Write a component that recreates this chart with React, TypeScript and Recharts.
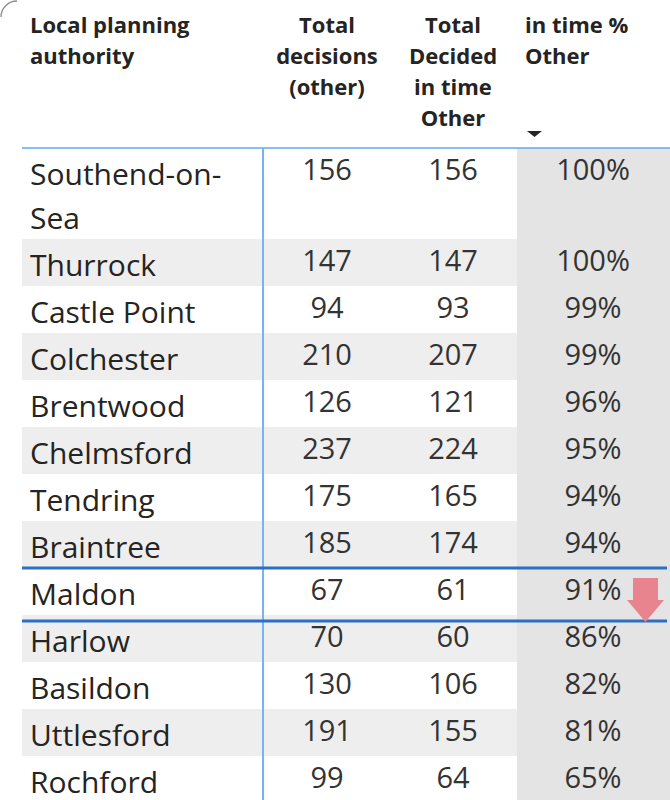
import { ScatterChart, Scatter, XAxis, YAxis, ReferenceArea, ReferenceLine } from 'recharts';

// Table contents
const authorities = [
    'Southend-on-Sea', 'Thurrock', 'Castle Point', 'Colchester', 'Brentwood', 'Chelmsford',
    'Tendring', 'Braintree', 'Maldon', 'Harlow', 'Basildon', 'Uttlesford', 'Rochford',
];
const totalDecisions = [156, 147, 94, 210, 126, 237, 175, 185, 67, 70, 130, 191, 99];
const decidedInTime = [156, 147, 93, 207, 121, 224, 165, 174, 61, 60, 106, 155, 64];
const inTimePct = [100, 100, 99, 99, 96, 95, 94, 94, 91, 86, 82, 81, 65];
const headerLabels = [
    ['Local planning', 'authority'],
    ['Total', 'decisions', '(other)'],
    ['Total', 'Decided', 'in time', 'Other'],
    ['in time %', 'Other'],
];
const highlighted = 'Maldon';

// layout, in pixels (the body scale is 1:1)
const W = 670;
const H = 800;
const HEADER_H = 148;
const BODY_H = H - HEADER_H;
const COLS = [
    { x: 30, anchor: 'start' },
    { x: 327, anchor: 'middle' },
    { x: 453, anchor: 'middle' },
    { x: 525, anchor: 'start' },
];
const PCT_X = 593;
const TABLE_LEFT = 22;
const DIVIDER_X = 263;
const PCT_COL_LEFT = 517;
const LINE_H = 44;
const ROW_PAD = 3;
const NAME_BASE = 37;
const NUM_BASE = 32;
const NAME_CHARS = 13; // longer names wrap after their last hyphen

const FONT = '"Open Sans", "Noto Sans", sans-serif';
const TEXT = '#252423';
const NUM = '#333333';
const BAND = '#eeeeee';
const PCT_BG = '#e4e4e4';
const HEADER_LINE = '#62a8ee';
const SELECT_LINE = '#2a6fc4';

function wrapName(name: string): string[] {
    if (name.length <= NAME_CHARS) return [name];
    const cut = name.lastIndexOf('-') + 1;
    return [name.slice(0, cut), name.slice(cut)];
}

let cursor = 0;
const rows = authorities.map((name, i) => {
    const lines = wrapName(name);
    const start = cursor;
    cursor += ROW_PAD + lines.length * LINE_H;
    return { name, lines, start, end: cursor, i };
});

const nameCells = rows.flatMap((r) =>
    r.lines.map((t, k) => ({ x: COLS[0].x, y: r.start + NAME_BASE + k * LINE_H, label: t }))
);
const decisionCells = rows.map((r) => ({ x: COLS[1].x, y: r.start + NUM_BASE, label: String(totalDecisions[r.i]) }));
const inTimeCells = rows.map((r) => ({ x: COLS[2].x, y: r.start + NUM_BASE, label: String(decidedInTime[r.i]) }));
const pctCells = rows.map((r) => ({
    x: PCT_X,
    y: r.start + NUM_BASE,
    label: `${inTimePct[r.i]}%`,
    flag: r.name === highlighted,
}));

function HeaderTick(props: any) {
    const idx = COLS.findIndex((c) => c.x === props.payload.value);
    if (idx < 0) return null;
    const col = COLS[idx];
    return (
        <g>
            {idx === 0 && <path d="M1,17 A16,16 0 0 1 17,1" fill="none" stroke="#8c8c8c" strokeWidth={1.3} />}
            {headerLabels[idx].map((t, k) => (
                <text key={k} x={props.x} y={33 + k * 31} textAnchor={col.anchor} fontSize={22}
                    fontWeight={700} fill={TEXT} fontFamily={FONT}>{t}</text>
            ))}
            {idx === 3 && <path d={`M${props.x + 2},131 h15 l-7.5,6 z`} fill={TEXT} />}
        </g>
    );
}

const textCell = (size: number, anchor: string, color: string) => (p: any) => (
    <text x={p.cx} y={p.cy} fontSize={size} textAnchor={anchor} fill={color} fontFamily={FONT}>
        {p.payload.label}
    </text>
);

function PctCell(p: any) {
    const { cx, cy } = p;
    return (
        <g>
            <text x={cx} y={cy} fontSize={29} textAnchor="middle" fill={NUM} fontFamily={FONT}>{p.payload.label}</text>
            {p.payload.flag && (
                <path
                    d={`M${cx + 40},${cy - 22} H${cx + 65} V${cy} H${cx + 71} L${cx + 52.5},${cy + 22} L${cx + 34},${cy} H${cx + 40} Z`}
                    fill="#e8848e"
                />
            )}
        </g>
    );
}

export default function App() {
    const sel = rows.find((r) => r.name === highlighted)!;
    return (
        <div style={{ position: 'absolute', left: 0, top: 0, background: '#fff' }}>
            <ScatterChart width={W} height={H} margin={{ top: 0, right: 0, bottom: 0, left: 0 }}>
                <XAxis type="number" dataKey="x" domain={[0, W]} orientation="top" height={HEADER_H}
                    ticks={COLS.map((c) => c.x)} tick={HeaderTick} interval={0} axisLine={false} tickLine={false} />
                <YAxis type="number" dataKey="y" domain={[0, BODY_H]} reversed hide />

                {rows.filter((r) => r.i % 2 === 1).map((r) => (
                    <ReferenceArea key={r.name} x1={TABLE_LEFT} x2={W} y1={r.start} y2={r.end}
                        fill={BAND} fillOpacity={1} stroke="none" ifOverflow="visible" />
                ))}
                <ReferenceArea x1={PCT_COL_LEFT} x2={W} y1={0} y2={BODY_H}
                    fill={PCT_BG} fillOpacity={1} stroke="none" ifOverflow="visible" />

                <ReferenceLine segment={[{ x: TABLE_LEFT, y: 0 }, { x: W, y: 0 }]}
                    stroke={HEADER_LINE} strokeWidth={1.5} ifOverflow="visible" />
                <ReferenceLine x={DIVIDER_X} stroke="#78b2f0" strokeWidth={2} ifOverflow="visible" />
                {/* selected row outline, Power BI draws the lower edge a little into the next row */}
                <ReferenceLine segment={[{ x: TABLE_LEFT, y: sel.start }, { x: 667, y: sel.start }]}
                    stroke={SELECT_LINE} strokeWidth={3} ifOverflow="visible" />
                <ReferenceLine segment={[{ x: TABLE_LEFT, y: sel.end + 6 }, { x: 667, y: sel.end + 6 }]}
                    stroke={SELECT_LINE} strokeWidth={3} ifOverflow="visible" />

                <Scatter data={nameCells} shape={textCell(30, 'start', TEXT)} isAnimationActive={false} />
                <Scatter data={decisionCells} shape={textCell(29, 'middle', NUM)} isAnimationActive={false} />
                <Scatter data={inTimeCells} shape={textCell(29, 'middle', NUM)} isAnimationActive={false} />
                <Scatter data={pctCells} shape={PctCell} isAnimationActive={false} />
            </ScatterChart>
        </div>
    );
}
